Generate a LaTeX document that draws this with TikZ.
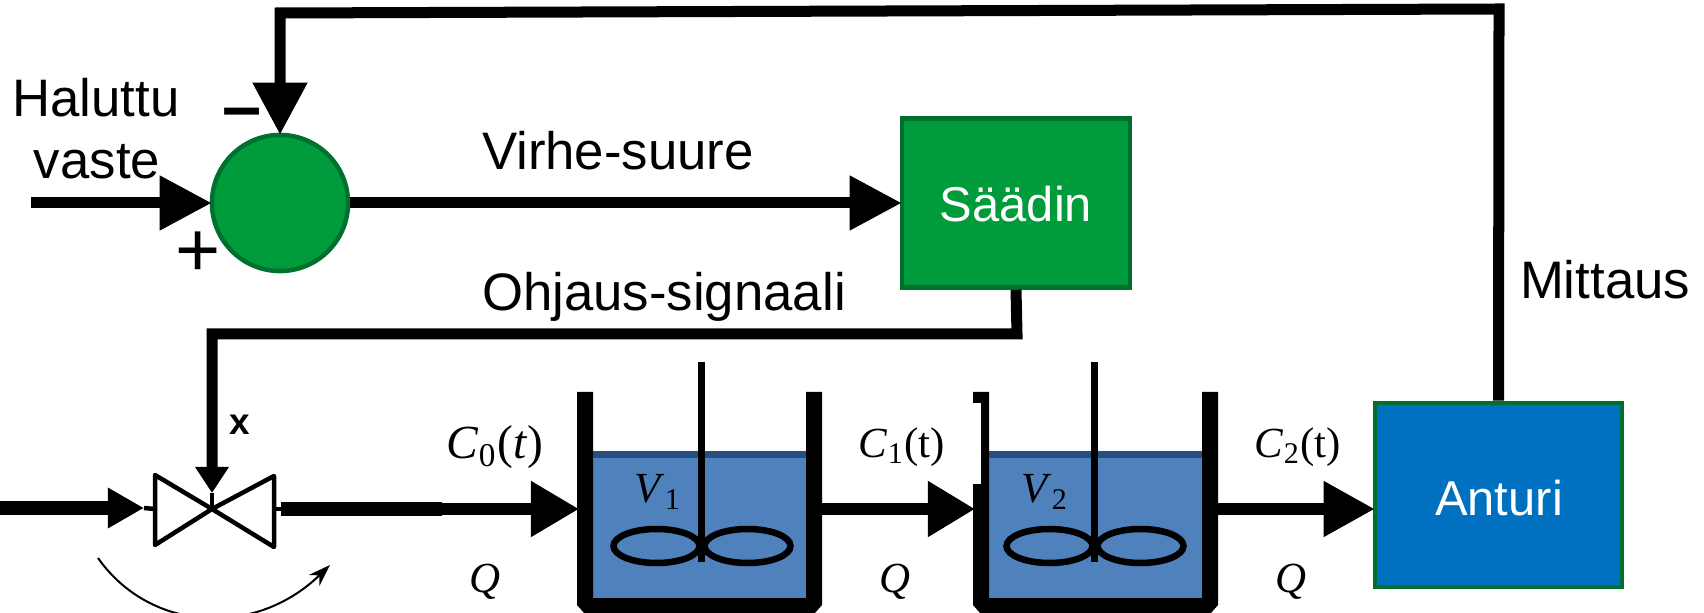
\documentclass[tikz,border=0pt]{standalone}
\usepackage[no-math]{fontspec}
\setmainfont{Liberation Sans}
\newfontfamily\kaavafont{Liberation Serif}
\usetikzlibrary{arrows.meta}
\definecolor{vihrea}{HTML}{009B3A}
\definecolor{vihreareuna}{HTML}{00702E}
\definecolor{sininen}{HTML}{0070C0}
\definecolor{vesi}{HTML}{4F81BD}
\definecolor{vesipinta}{HTML}{264F80}
\tikzset{
  sig/.style={-{Triangle[length=5.2mm, width=5.2mm]}, line width=1.1mm, shorten >=-0.2mm},
  sigpieni/.style={-{Triangle[length=3.6mm, width=3.8mm]}, line width=1.3mm},
  sigventt/.style={-{Triangle[length=2.6mm, width=3.2mm]}, line width=1.1mm},
  ohut/.style={line width=0.45mm},
  lohko/.style={draw=vihreareuna, line width=0.45mm, inner sep=0pt},
  summa/.style={circle, draw=vihreareuna, fill=vihrea, line width=0.45mm, minimum size=13.6mm, inner sep=0pt},
  teksti/.style={inner sep=0pt, anchor=base, font=\fontsize{15}{18}\selectfont},
  lohkot/.style={inner sep=0pt, anchor=base, text=white, font=\fontsize{13.9}{18}\selectfont},
  kaava/.style={inner sep=0pt, font=\kaavafont\fontsize{12.2}{15}\selectfont}
}
\newcommand{\sailio}[3]{
  \begin{scope}[shift={(#2,0)}]
    \fill[vesi] (16,451) rectangle (229,598);
    \fill[vesipinta] (16,451) rectangle (229,458);
    \fill (0,392) -- (16,392) -- (16,598) -- (229,598) -- (229,392) -- (245,392) -- (245,605) -- (238,613) -- (7,613) -- (0,605) -- cycle;
    \draw[line width=0.7mm] (#3,362) -- (#3,562);
    \draw[line width=0.65mm] (#3-45,546) ellipse [x radius=43, y radius=17];
    \draw[line width=0.65mm] (#3+46,546) ellipse [x radius=43, y radius=17];
    \coordinate (#1in) at (0,509);
    \coordinate (#1out) at (245,509);
  \end{scope}
}
\newcommand{\ck}[2]{\textit{C}\textsubscript{#1}(#2)}

\begin{document}
\begin{tikzpicture}[x=0.01cm, y=-0.01cm]
	\useasboundingbox (0,0) rectangle (1704,613);
	\clip (0,0) rectangle (1704,613);
	% lohkot
	\node[summa] (sum) at (280,203) {};
	\node[lohko, fill=vihrea, minimum width=22.8mm, minimum height=16.9mm] (saadin) at (1016,203) {};
	\node[lohko, fill=sininen, minimum width=24.7mm, minimum height=18.4mm] (anturi) at (1498.5,495) {};
	\node[lohkot] (saadint) at (1016,222) {Säädin};
	\node[lohkot] (anturit) at (1499,515) {Anturi};
	% sailiot
	\sailio{tka}{577}{124.5}
	\sailio{tkb}{973}{121.5}
	\fill[white] (973,403) rectangle (981,484);
	% takaisinkytkenta
	\coordinate (tulo) at (31,203);
	\coordinate (ylar) at (1499,9);
	\coordinate (ylav) at (280,13);
	\draw[sig] (tulo) -- (sum.west);
	\draw[sig] (anturi.north) -- (ylar) -- (ylav) -- (sum.north);
	\draw[sig] (sum.east) -- (saadin.west);
	% venttiili
	\coordinate (vent) at (212,509);
	\coordinate (ventv) at (155,509);
	\coordinate (vento) at (274,509);
	\coordinate (ohjr) at (1017,334);
	\coordinate (ohjv) at (212,334);
	\coordinate (ventk) at (212,493);
	\coordinate (inl) at (0,508);
	\coordinate (inlk) at (144,508);
	\coordinate (outl) at (281,509);
	\coordinate (outlp) at (442,509);
	\draw[sigventt] (saadin.south) -- (ohjr) -- (ohjv) -- (ventk);
	\draw[ohut] (ventk) -- (vent);
	\draw[ohut, line join=round] (vent) -- (155,475) -- (155,545) -- cycle;
	\draw[ohut, line join=round] (vent) -- (274,476) -- (274,547) -- cycle;
	\draw[sigpieni] (inl) -- (inlk);
	\draw[ohut] (inlk) -- (ventv);
	\draw[ohut] (vento) -- (outl);
	\draw[line width=1.3mm] (outl) -- (outlp);
	\draw[-{Triangle[length=4.8mm, width=5.3mm]}, line width=1.1mm, shorten >=-0.2mm] (outlp) -- (tkain);
	\draw[-{Triangle[length=4.7mm, width=5.3mm]}, line width=1.1mm, shorten >=-0.2mm] (tkaout) -- (tkbin);
	\draw[-{Triangle[length=5.1mm, width=5.3mm]}, line width=1.1mm, shorten >=-0.2mm] (tkbout) -- (anturi.west |- tkbout);
	\coordinate (kaaral) at (98,558);
	\coordinate (kaarlo) at (330,565);
	\draw[line width=0.2mm, -{Stealth[length=2.2mm, width=1.5mm]}] (kaaral) .. controls (150,632) and (255,638) .. (kaarlo);
	% tekstit
	\node[teksti] (hal) at (96,117) {Haluttu};
	\node[teksti] (vas) at (97,179) {vaste};
	\node[teksti] (vir) at (618,170) {Virhe-suure};
	\node[teksti] (ohj) at (664,311) {Ohjaus-signaali};
	\node[teksti] (mit) at (1605,299) {Mittaus};
	\node[inner sep=0pt, font=\bfseries\fontsize{20}{22}\selectfont] (miinus) at (242,119) {–};
	\node[inner sep=0pt, font=\fontsize{22}{24}\selectfont] (plus) at (198,254) {+};
	\node[inner sep=0pt, font=\bfseries\fontsize{10.5}{12}\selectfont] (xlab) at (240,425) {x};
	\node[kaava, font=\kaavafont\fontsize{13.5}{16}\selectfont] (c0) at (495,447) {\ck{0}{\textit{t}}};
	\node[kaava] (c1) at (902,447) {\ck{1}{t}};
	\node[kaava] (c2) at (1298,447) {\ck{2}{t}};
	\node[kaava] (q0) at (485,582) {\textit{Q}};
	\node[kaava] (q1) at (895,582) {\textit{Q}};
	\node[kaava] (q2) at (1291,582) {\textit{Q}};
	\node[kaava] (v1) at (658,492) {\textit{V}\textsubscript{1}};
	\node[kaava] (v2) at (1045,492) {\textit{V}\textsubscript{2}};
\end{tikzpicture}
\end{document}
